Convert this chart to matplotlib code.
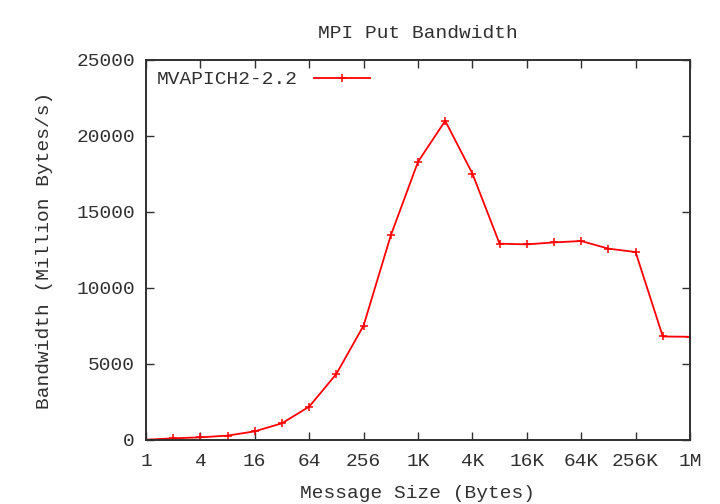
import numpy as np
from matplotlib import pyplot as plt

# message sizes are powers of two, 1 B .. 1 MB
sizes = [2 ** i for i in range(21)]
bandwidth = [20, 110, 175, 290, 570, 1100, 2195, 4350, 7530, 13460, 18300,
             21000, 17530, 12915, 12870, 13000, 13090, 12590, 12365, 6810, 6790]
tick_sizes = [4 ** i for i in range(11)]
tick_labels = ['1', '4', '16', '64', '256', '1K', '4K', '16K', '64K', '256K', '1M']
series_name = 'MVAPICH2-2.2'

plt.rcParams['font.family'] = ['Liberation Mono', 'DejaVu Sans Mono']
plt.rcParams['font.size'] = 14
ink = '#303030'

fig = plt.figure(figsize=(7.2, 5.04), dpi=100)
ax = fig.add_axes([146 / 720, 64 / 504, 544 / 720, 380 / 504])

ax.plot(sizes, bandwidth, color='red', lw=1.3, marker='+', ms=6, mew=1.1,
        label=series_name)

ax.set_xscale('log', base=2)
ax.set_xlim(1, 2 ** 20)
ax.set_ylim(0, 25000)
ax.set_xticks(tick_sizes)
ax.set_xticklabels(tick_labels)
ax.xaxis.set_minor_locator(plt.NullLocator())
ax.set_yticks(np.arange(0, 25001, 5000))

ax.tick_params(axis='both', which='major', direction='in', length=6, width=1,
               top=True, right=True, colors=ink, labelcolor=ink)
ax.tick_params(axis='x', pad=9)
ax.tick_params(axis='y', pad=8)
for sp in ax.spines.values():
    sp.set_linewidth(1.4)
    sp.set_color(ink)

ax.set_title('MPI Put Bandwidth', color=ink, fontsize=14, pad=16)
ax.set_xlabel('Message Size (Bytes)', color=ink, labelpad=11)
ax.set_ylabel('Bandwidth (Million Bytes/s)', color=ink, labelpad=17)

leg = ax.legend(loc='upper left', markerfirst=False, frameon=False,
                handlelength=2.85, borderaxespad=0.15, handletextpad=0.85)
for t in leg.get_texts():
    t.set_color(ink)

fig.savefig('out.png', dpi=100)
